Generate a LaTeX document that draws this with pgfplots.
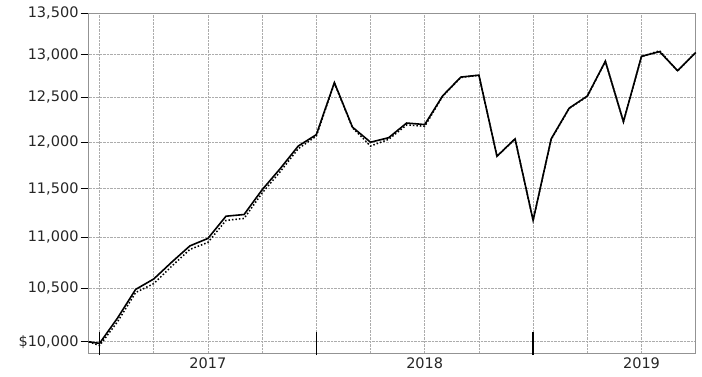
\documentclass[border=0pt]{standalone}
\usepackage{pgfplots}
\pgfplotsset{compat=1.18}
\usepackage{fontspec}
\setmainfont{DejaVu Sans}
\begin{document}
\begin{tikzpicture}
\useasboundingbox (-88.7pt,-23pt) rectangle (613.3pt,354pt);
\begin{axis}[
  at={(0,0)}, anchor=south west,
  scale only axis, width=607pt, height=340.7pt,
  ymode=log, ymin=9890, ymax=13500,
  xmin=-0.6, xmax=33,
  ytick={10000,10500,11000,11500,12000,12500,13000,13500},
  yticklabels={\$10{,}000,10{,}500,11{,}000,11{,}500,12{,}000,12{,}500,13{,}000,13{,}500},
  xtick={0,3,...,33},
  xticklabels={,,2017,,,,2018,,,,2019,},
  xtick pos=bottom, ytick pos=left,
  xtick style={draw=none},
  ytick style={black, line width=1.2pt},
  tick align=outside,
  major tick length=8pt,
  grid=major,
  grid style={densely dotted, gray!65, line width=0.6pt},
  axis line style={gray!85, line width=0.9pt},
  tick label style={font=\fontsize{14.5}{17}\selectfont, text=black!85},
  yticklabel style={inner sep=2pt},
  xticklabel style={inner sep=0pt, text height=10.5pt, text depth=0pt, yshift=4pt},
  /pgf/number format/assume math mode=true,
  clip=false,
]
\addplot[black, dotted, line width=1.5pt] coordinates {
(-0.6,10000) (0,9965) (1,10185) (2,10460) (3,10545) (4,10715) (5,10880) (6,10950)
(7,11172) (8,11192) (9,11455) (10,11680) (11,11928) (12,12066) (13,12665) (14,12160)
(15,11957) (16,12030) (17,12190) (18,12175) (19,12515) (20,12730) (21,12755) (22,11846)
(23,12036) (24,11172) (25,12030) (26,12375) (27,12512) (28,12918) (29,12226) (30,12975)
(31,13045) (32,12805) (33,13024)
};
\addplot[black, line width=1.6pt] coordinates {
(-0.6,10000) (0,9985) (1,10220) (2,10490) (3,10590) (4,10755) (5,10915) (6,10990)
(7,11215) (8,11232) (9,11489) (10,11713) (11,11957) (12,12082) (13,12670) (14,12165)
(15,11999) (16,12048) (17,12211) (18,12194) (19,12520) (20,12735) (21,12757) (22,11846)
(23,12036) (24,11172) (25,12036) (26,12379) (27,12516) (28,12920) (29,12226) (30,12978)
(31,13034) (32,12809) (33,13024)
};
\draw[black, line width=1.6pt] (axis cs:0,9879) -- (axis cs:0,10094);
\draw[black, line width=1.6pt] (axis cs:12,9879) -- (axis cs:12,10094);
\draw[black, line width=1.6pt] (axis cs:24,9879) -- (axis cs:24,10094);
\end{axis}
\end{tikzpicture}
\end{document}
